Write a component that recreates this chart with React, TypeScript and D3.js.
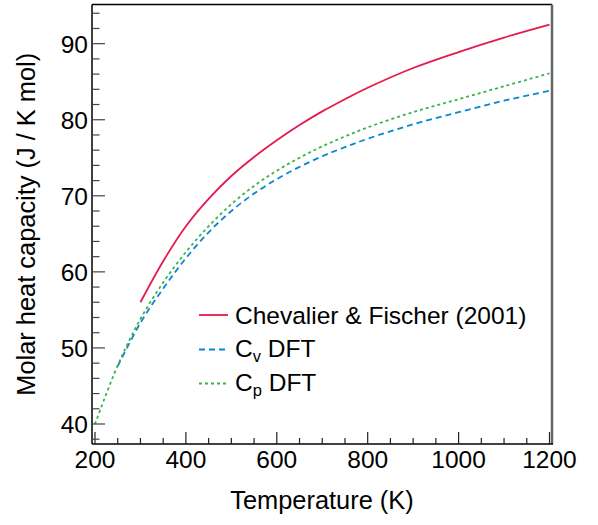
import React from 'react';
import * as d3 from 'd3';

// temperatures (K) and heat capacities (J / K mol)
const tempRef = [300, 350, 400, 450, 500, 550, 600, 650, 700, 750, 800, 900, 1000, 1100, 1200];
const cpRef = [56.0, 61.4, 66.0, 69.6, 72.6, 75.1, 77.3, 79.3, 81.1, 82.7, 84.2, 86.8, 88.9, 90.8, 92.5];

const tempCv = [250, 300, 350, 400, 450, 500, 550, 600, 650, 700, 750, 800, 900, 1000, 1100, 1200];
const cvDft = [47.6, 53.3, 57.8, 61.8, 65.2, 68.0, 70.3, 72.2, 73.8, 75.2, 76.4, 77.5, 79.4, 81.0, 82.5, 83.8];

const tempCp = [200, 250, 300, 350, 400, 450, 500, 550, 600, 650, 700, 750, 800, 900, 1000, 1100, 1200];
const cpDft = [40.0, 47.7, 53.8, 58.6, 62.6, 66.0, 68.9, 71.3, 73.3, 75.0, 76.5, 77.8, 79.0, 81.0, 82.7, 84.4, 86.1];

const xTickLabels = [200, 400, 600, 800, 1000, 1200];
const yTickLabels = [40, 50, 60, 70, 80, 90];

const W = 598;
const H = 525;
const font = '"Liberation Sans", Arial, Helvetica, sans-serif';

const App = () => {
  const x = d3.scaleLinear().domain([193.4, 1205.5]).range([92, 552]);
  const y = d3.scaleLinear().domain([37.37, 95.15]).range([444, 4.5]);

  const line = d3
    .line<[number, number]>()
    .x(d => x(d[0]))
    .y(d => y(d[1]))
    .curve(d3.curveCatmullRom.alpha(0.5));

  const zip = (a: number[], b: number[]) => a.map((t, i) => [t, b[i]] as [number, number]);

  const xMinor = d3.range(200, 1201, 50).filter(v => v % 200 !== 0);
  const yMinor = d3.range(38, 95, 2).filter(v => v % 10 !== 0);

  const series = [
    { name: 'ref', d: zip(tempRef, cpRef), color: '#e6194b', dash: null },
    { name: 'cv', d: zip(tempCv, cvDft), color: '#0a87d0', dash: '6,4' },
    { name: 'cp', d: zip(tempCp, cpDft), color: '#3cb44b', dash: '3,3' },
  ];

  const [x0, x1] = x.range();
  const [y0, y1] = y.range();

  return (
    <svg width={W} height={H} style={{ position: 'absolute', left: 0, top: 0, background: '#fff' }}
      fontFamily={font}>
      {/* curves */}
      {series.map(s => (
        <path key={s.name} d={line(s.d) || ''} fill="none" stroke={s.color} strokeWidth={1.8}
          strokeDasharray={s.dash || undefined} />
      ))}

      {/* frame */}
      <line x1={x0} x2={x1} y1={y1} y2={y1} stroke="#000" strokeWidth={1.5} />
      <line x1={x1} x2={x1} y1={y1} y2={y0} stroke="#666" strokeWidth={2.5} />
      <line x1={x0} x2={x1 + 1} y1={y0} y2={y0} stroke="#000" strokeWidth={1.5} />
      <line x1={x0} x2={x0} y1={y1} y2={y0} stroke="#000" strokeWidth={1.5} />

      {/* x ticks */}
      {xMinor.map(v => (
        <line key={'xm' + v} x1={x(v)} x2={x(v)} y1={y0} y2={y0 - 6} stroke="#222" strokeWidth={1.2} />
      ))}
      {xTickLabels.map(v => (
        <g key={'x' + v}>
          <line x1={x(v)} x2={x(v)} y1={y0} y2={y0 - 12} stroke="#222" strokeWidth={1.2} />
          <text x={x(v)} y={468} textAnchor="middle" fontSize={24.5} fill="#000">{v}</text>
        </g>
      ))}

      {/* y ticks */}
      {yMinor.map(v => (
        <line key={'ym' + v} x1={x0} x2={x0 + 7.5} y1={y(v)} y2={y(v)} stroke="#444" strokeWidth={1.2} />
      ))}
      {yTickLabels.map(v => (
        <g key={'y' + v}>
          <line x1={x0} x2={x0 + 13} y1={y(v)} y2={y(v)} stroke="#444" strokeWidth={1.2} />
          <text x={88} y={y(v) + 9} textAnchor="end" fontSize={24.5} fill="#000">{v}</text>
        </g>
      ))}

      {/* axis titles */}
      <text x={(x0 + x1) / 2} y={509} textAnchor="middle" fontSize={25.4}>Temperature (K)</text>
      <text transform={`translate(35,${(y0 + y1) / 2}) rotate(-90)`} textAnchor="middle" fontSize={25.4}>
        Molar heat capacity (J / K mol)
      </text>

      {/* legend */}
      <g>
        <line x1={199} x2={228} y1={315} y2={315} stroke="#e6194b" strokeWidth={1.8} />
        <text x={235} y={323.5} fontSize={24.5}>Chevalier &amp; Fischer (2001)</text>
        <line x1={199} x2={228} y1={349.5} y2={349.5} stroke="#0a87d0" strokeWidth={1.8} strokeDasharray="6,4" />
        <text x={235} y={357} fontSize={24.5}>
          C<tspan fontSize={16.5} dy={5}>v</tspan><tspan dy={-5}> DFT</tspan>
        </text>
        <line x1={199} x2={228} y1={383.5} y2={383.5} stroke="#3cb44b" strokeWidth={1.8} strokeDasharray="3,3" />
        <text x={235} y={390.5} fontSize={24.5}>
          C<tspan fontSize={16.5} dy={5}>p</tspan><tspan dy={-5}> DFT</tspan>
        </text>
      </g>
    </svg>
  );
};

export default App;
